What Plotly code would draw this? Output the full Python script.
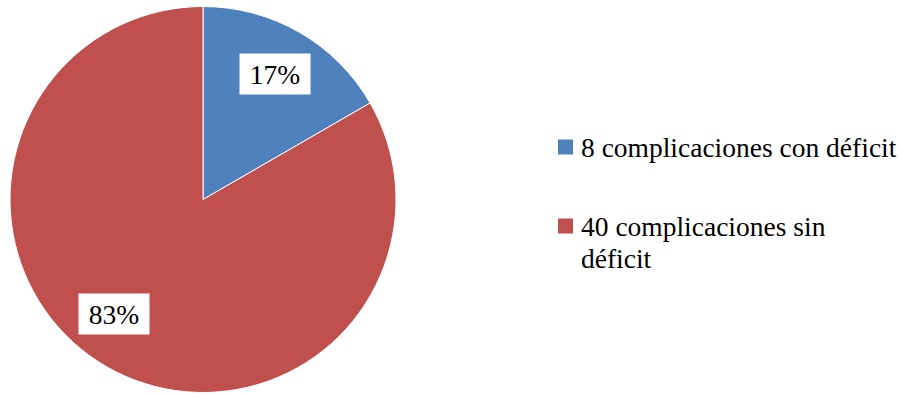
import math
import plotly.graph_objects as go

# ---- data ----
labels = ["8 complicaciones con déficit", "40 complicaciones sin déficit"]
values = [8, 40]
colors = ["#4F81BD", "#C0504D"]
legend_lines = [["8 complicaciones con déficit"], ["40 complicaciones sin", "déficit"]]

# ---- style / layout (pixels) ----
W, H = 902, 395
FONT = "Liberation Serif"
FS = 27.5
cx, cy, R = 203, 199.5, 193
label_r = 0.75
label_angle_offset = [0, 8]       # degrees, clockwise
legend_sq_x = 558
legend_sq = 15
legend_text_x = 579
legend_item_y = [147, 226]
legend_line_gap = 32

total = sum(values)
pcts = [round(v / total * 100) for v in values]

fig = go.Figure(go.Pie(
    labels=labels,
    values=values,
    marker=dict(colors=colors, line=dict(color="white", width=1)),
    sort=False,
    direction="clockwise",
    rotation=0,
    textinfo="none",
    hoverinfo="label+percent",
    showlegend=False,
    domain=dict(x=[(cx - R) / W, (cx + R) / W],
                y=[(H - (cy + R)) / H, (H - (cy - R)) / H]),
))

annotations = []
shapes = []

# percentage labels placed along each slice's mid-angle
cum = 0
for i, v in enumerate(values):
    mid = (cum + v / 2) / total * 360 + label_angle_offset[i]
    cum += v
    rad = math.radians(mid)
    px = cx + label_r * R * math.sin(rad)
    py = cy - label_r * R * math.cos(rad)
    annotations.append(dict(
        x=px / W, y=1 - py / H, xref="paper", yref="paper",
        text=f"{pcts[i]}%", showarrow=False,
        font=dict(family=FONT, size=FS, color="black"),
        bgcolor="white", width=68, height=38,
        xanchor="center", yanchor="middle",
    ))

# legend
for i, lines in enumerate(legend_lines):
    yc = legend_item_y[i]
    shapes.append(dict(
        type="rect", xref="paper", yref="paper",
        x0=legend_sq_x / W, x1=(legend_sq_x + legend_sq) / W,
        y0=1 - (yc + legend_sq / 2) / H, y1=1 - (yc - legend_sq / 2) / H,
        fillcolor=colors[i], line=dict(width=0),
    ))
    for j, ln in enumerate(lines):
        annotations.append(dict(
            x=legend_text_x / W, y=1 - (yc + j * legend_line_gap) / H,
            xref="paper", yref="paper", text=ln, showarrow=False,
            font=dict(family=FONT, size=FS, color="black"),
            xanchor="left", yanchor="middle",
        ))

fig.update_layout(
    width=W, height=H,
    margin=dict(l=0, r=0, t=0, b=0),
    paper_bgcolor="white", plot_bgcolor="white",
    annotations=annotations, shapes=shapes,
)

fig.write_html("out.html")
